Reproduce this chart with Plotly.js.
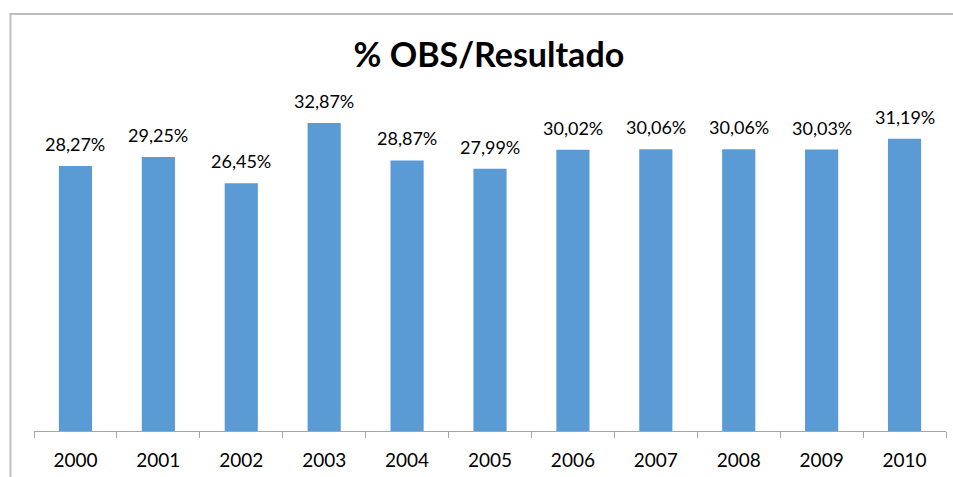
<!DOCTYPE html>
<html>
<head>
<meta charset="utf-8">
<script src="https://cdn.plot.ly/plotly-3.0.1.min.js"></script>
<style>
  body { margin: 0; background: #fff; }
  #chart { width: 953px; height: 477px; }
</style>
</head>
<body>
<div id="chart"></div>
<script>
// Chart data
const years = ["2000", "2001", "2002", "2003", "2004", "2005", "2006", "2007", "2008", "2009", "2010"];
const obsPct = [28.27, 29.25, 26.45, 32.87, 28.87, 27.99, 30.02, 30.06, 30.06, 30.03, 31.19];

const barTrace = {
  x: years,
  y: obsPct,
  type: "bar",
  width: 0.4,
  marker: { color: "#5B9BD5" },
  hoverinfo: "x+y",
};

// Value labels above each bar (x given as category index)
const labels = years.map((yr, i) => ({
  x: i,
  y: obsPct[i],
  text: obsPct[i].toFixed(2).replace(".", ",") + "%",
  showarrow: false,
  yanchor: "bottom",
  yshift: 9,
  font: { family: "Lato, 'Open Sans', sans-serif", size: 18, color: "#000" },
}));

const layout = {
  width: 953,
  height: 477,
  margin: { l: 34, r: 7, t: 103, b: 46 },
  paper_bgcolor: "#fff",
  plot_bgcolor: "#fff",
  showlegend: false,
  separators: ",.",
  title: {
    text: "<b>% OBS/Resultado</b>",
    font: { family: "Lato, 'Open Sans', sans-serif", size: 34, color: "#000" },
    x: 0.513,
    xanchor: "center",
    y: 0.885,
    yanchor: "middle",
  },
  xaxis: {
    type: "category",
    range: [-0.5, years.length - 0.5],
    showline: true,
    linecolor: "#a6a6a6",
    linewidth: 1,
    ticks: "outside",
    tickson: "boundaries",
    ticklen: 6,
    tickcolor: "#a6a6a6",
    ticklabelstandoff: 12,
    tickfont: { family: "Lato, 'Open Sans', sans-serif", size: 19, color: "#000" },
    showgrid: false,
    zeroline: false,
  },
  yaxis: {
    range: [0, 35],
    visible: false,
    showgrid: false,
    zeroline: false,
  },
  annotations: labels,
  shapes: [
    {
      // chart area border (runs off the right and bottom edges)
      type: "rect",
      xref: "paper",
      yref: "paper",
      x0: -0.0258,
      x1: 1.1,
      y0: -0.3,
      y1: 1.2713,
      line: { color: "#bdbdbd", width: 2 },
      layer: "below",
    },
  ],
};

Plotly.newPlot("chart", [barTrace], layout, { displayModeBar: false });
</script>
</body>
</html>
